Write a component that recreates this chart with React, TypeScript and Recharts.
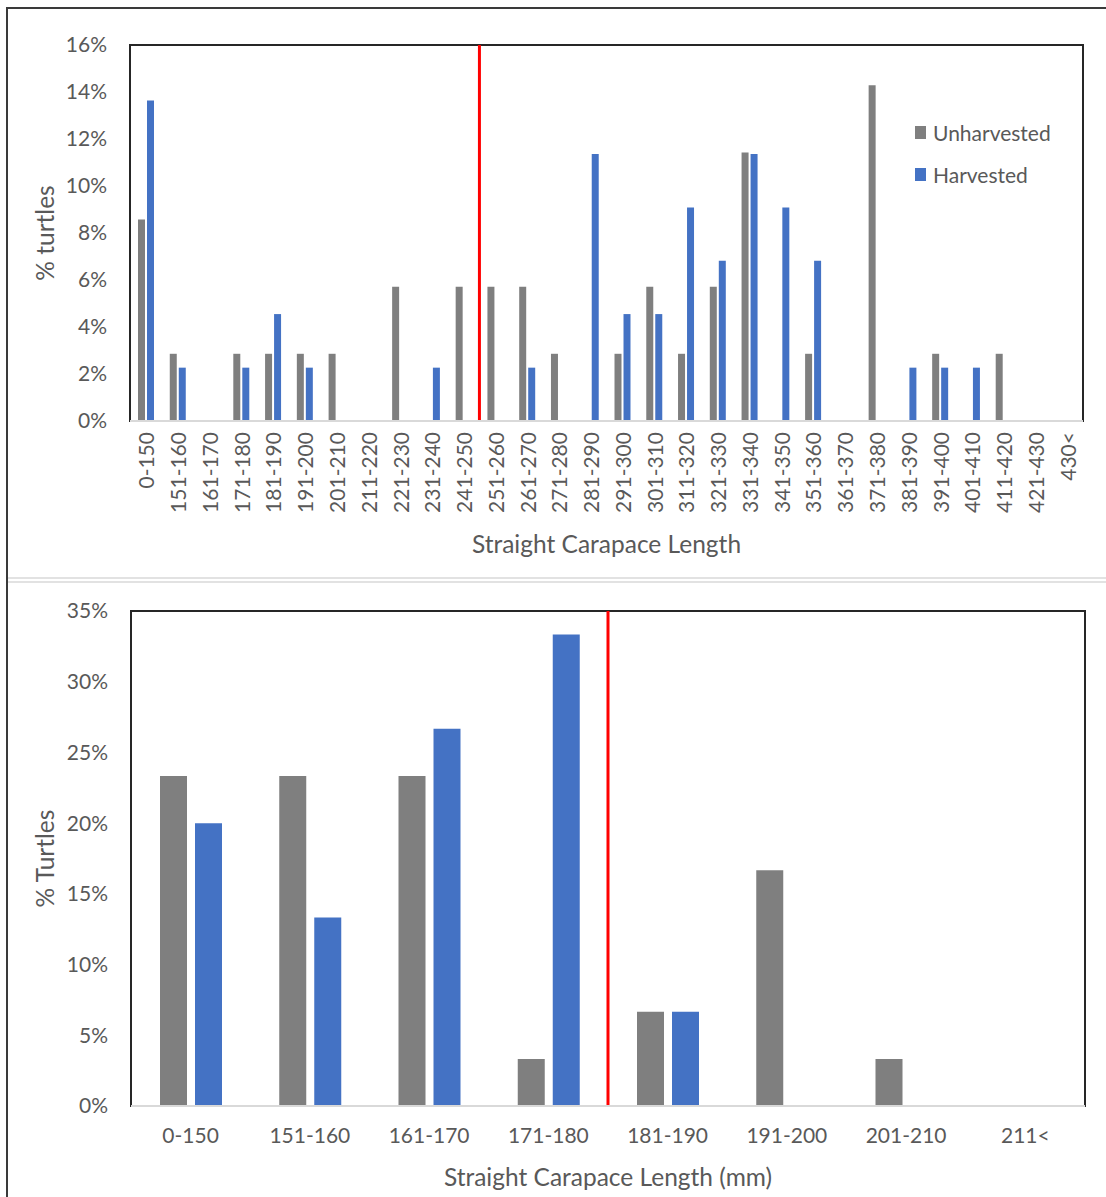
import React from 'react';
import { BarChart, Bar, XAxis, YAxis, ReferenceLine, ReferenceArea, Legend } from 'recharts';

const FONT = "Lato, 'Liberation Sans', sans-serif";
const TEXT = '#595959';
const GRAY = '#7f7f7f';
const BLUE = '#4472c4';
const RED = '#ff0000';

// ---- Top chart data ----
const topCategories = [
  '0-150', '151-160', '161-170', '171-180', '181-190', '191-200', '201-210', '211-220', '221-230', '231-240',
  '241-250', '251-260', '261-270', '271-280', '281-290', '291-300', '301-310', '311-320', '321-330', '331-340',
  '341-350', '351-360', '361-370', '371-380', '381-390', '391-400', '401-410', '411-420', '421-430', '430<',
];
const topUnharvested = [
  8.57, 2.86, 0, 2.86, 2.86, 2.86, 2.86, 0, 5.71, 0,
  5.71, 5.71, 5.71, 2.86, 0, 2.86, 5.71, 2.86, 5.71, 11.43,
  0, 2.86, 0, 14.29, 0, 2.86, 0, 2.86, 0, 0,
];
const topHarvested = [
  13.64, 2.27, 0, 2.27, 4.55, 2.27, 0, 0, 0, 2.27,
  0, 0, 2.27, 0, 11.36, 4.55, 4.55, 9.09, 6.82, 11.36,
  9.09, 6.82, 0, 0, 2.27, 2.27, 2.27, 0, 0, 0,
];
const topTicks = [0, 2, 4, 6, 8, 10, 12, 14, 16];
const topCutoff = '241-250';

// ---- Bottom chart data ----
const bottomCategories = ['0-150', '151-160', '161-170', '171-180', '181-190', '191-200', '201-210', '211<'];
const bottomUnharvested = [23.33, 23.33, 23.33, 3.33, 6.67, 16.67, 3.33, 0];
const bottomHarvested = [20, 13.33, 26.67, 33.33, 6.67, 0, 0, 0];
const bottomTicks = [0, 5, 10, 15, 20, 25, 30, 35];
const bottomCutoff = '171-180';

const seriesOrder = ['Unharvested', 'Harvested'];

const topData = topCategories.map((cat, i) => ({ cat, Unharvested: topUnharvested[i], Harvested: topHarvested[i] }));
const bottomData = bottomCategories.map((cat, i) => ({ cat, Unharvested: bottomUnharvested[i], Harvested: bottomHarvested[i] }));

const pct = (v: number) => `${v}%`;

const RotatedTick = (props: any) => {
  const { x, y, payload } = props;
  return (
    <text
      x={x}
      y={y}
      transform={`rotate(-90, ${x}, ${y})`}
      textAnchor="end"
      dominantBaseline="central"
      fill={TEXT}
      fontSize={21}
      fontFamily={FONT}
    >
      {payload.value}
    </text>
  );
};

const renderLegend = (props: any) => {
  const items = [...(props.payload || [])].sort(
    (a: any, b: any) => seriesOrder.indexOf(a.value) - seriesOrder.indexOf(b.value)
  );
  return (
    <div style={{ fontFamily: FONT, fontSize: 21, color: TEXT }}>
      {items.map((e: any) => (
        <div key={e.value} style={{ display: 'flex', alignItems: 'center', height: 42 }}>
          <span style={{ display: 'inline-block', width: 11, height: 13, background: e.color, marginRight: 7 }} />
          <span>{e.value}</span>
        </div>
      ))}
    </div>
  );
};

const tickStyle = { fill: TEXT, fontSize: 21, fontFamily: FONT };

export default function App() {
  return (
    <div style={{ position: 'absolute', left: 0, top: 0, width: 1106, height: 1197, background: '#fff', overflow: 'hidden' }}>
      <div style={{ position: 'absolute', left: 6, top: 7, width: 1100, height: 1190, borderTop: '2px solid #3a3a3a', borderLeft: '2px solid #3a3a3a' }} />
      <div style={{ position: 'absolute', left: 8, top: 577, width: 1098, height: 2, background: '#e2e2e2' }} />
      <div style={{ position: 'absolute', left: 8, top: 581, width: 1098, height: 2, background: '#e2e2e2' }} />

      <div style={{ position: 'absolute', left: 0, top: 0 }}>
        <BarChart
          width={1106}
          height={578}
          data={topData}
          margin={{ top: 45, right: 23, bottom: 0, left: 30 }}
          barSize={7}
          barGap={2}
        >
          <ReferenceArea x1={topCategories[0]} x2={topCategories[topCategories.length - 1]} y1={0} y2={16} fill="none" stroke="#262626" strokeWidth={2} />
          <XAxis
            dataKey="cat"
            type="category"
            interval={0}
            height={157}
            tickSize={0}
            tickMargin={11}
            tickLine={false}
            axisLine={{ stroke: '#d9d9d9', strokeWidth: 2 }}
            tick={<RotatedTick />}
            label={{ value: 'Straight Carapace Length', position: 'insideBottom', offset: 25, fill: TEXT, fontSize: 24.5, fontFamily: FONT }}
          />
          <YAxis
            type="number"
            domain={[0, 16]}
            ticks={topTicks}
            width={100}
            tickSize={0}
            tickMargin={23}
            tickLine={false}
            axisLine={false}
            tickFormatter={pct}
            tick={tickStyle}
            label={{ value: '% turtles', angle: -90, position: 'insideLeft', offset: 15, fill: TEXT, fontSize: 24.5, fontFamily: FONT, style: { textAnchor: 'middle' } }}
          />
          <Legend layout="vertical" align="center" verticalAlign="middle" content={renderLegend} wrapperStyle={{ left: 915, top: 111, width: 'auto', height: 'auto' }} />
          <Bar dataKey="Unharvested" name="Unharvested" fill={GRAY} isAnimationActive={false} />
          <Bar dataKey="Harvested" name="Harvested" fill={BLUE} isAnimationActive={false} />
          <ReferenceLine y={0} stroke="#d9d9d9" strokeWidth={2} />
          <ReferenceLine x={topCutoff} position="end" stroke={RED} strokeWidth={3} />
        </BarChart>
      </div>

      <div style={{ position: 'absolute', left: 0, top: 584 }}>
        <BarChart
          width={1106}
          height={613}
          data={bottomData}
          margin={{ top: 27, right: 21, bottom: 0, left: 31 }}
          barSize={27}
          barGap={8}
        >
          <ReferenceArea x1={bottomCategories[0]} x2={bottomCategories[bottomCategories.length - 1]} y1={0} y2={35} fill="none" stroke="#262626" strokeWidth={2} />
          <XAxis
            dataKey="cat"
            type="category"
            interval={0}
            height={91}
            tickSize={0}
            tickMargin={22}
            tickLine={false}
            axisLine={{ stroke: '#d9d9d9', strokeWidth: 2 }}
            tick={tickStyle}
            label={{ value: 'Straight Carapace Length (mm)', position: 'insideBottom', offset: 11, fill: TEXT, fontSize: 24.5, fontFamily: FONT }}
          />
          <YAxis
            type="number"
            domain={[0, 35]}
            ticks={bottomTicks}
            width={100}
            tickSize={0}
            tickMargin={23}
            tickLine={false}
            axisLine={false}
            tickFormatter={pct}
            tick={tickStyle}
            label={{ value: '% Turtles', angle: -90, position: 'insideLeft', offset: 14, fill: TEXT, fontSize: 24.5, fontFamily: FONT, style: { textAnchor: 'middle' } }}
          />
          <Bar dataKey="Unharvested" name="Unharvested" fill={GRAY} isAnimationActive={false} />
          <Bar dataKey="Harvested" name="Harvested" fill={BLUE} isAnimationActive={false} />
          <ReferenceLine y={0} stroke="#d9d9d9" strokeWidth={2} />
          <ReferenceLine x={bottomCutoff} position="end" stroke={RED} strokeWidth={3} />
        </BarChart>
      </div>
    </div>
  );
}
